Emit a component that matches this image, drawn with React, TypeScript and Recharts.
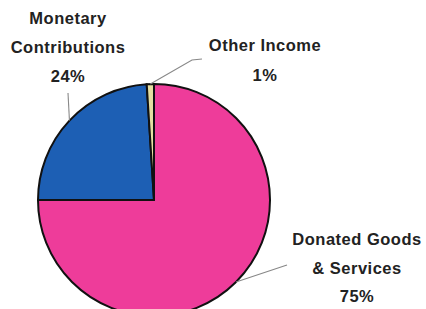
import { PieChart, Pie, Cell } from "recharts";

const categories = ["Donated Goods & Services", "Monetary Contributions", "Other Income"];
const shares = [75, 24, 1];
const labelLines = [["Donated Goods", "& Services", "75%"], ["Monetary", "Contributions", "24%"], ["Other Income", "1%"]];
const colors = ["#ee3c9a", "#1d5fb4", "#e6dfa2"];

const data = categories.map((name, i) => ({ name, value: shares[i] }));

// label text anchor and leader elbow, relative to pie centre
const layout = [
  { tx: 203, ty: 39, gap: 28.5, elbow: [[133, 65]] },
  { tx: -86, ty: -182, gap: 29, elbow: [[-86, -107]] },
  { tx: 111, ty: -155, gap: 30, elbow: [[38, -140], [48, -141]] }
];

const RAD = Math.PI / 180;

function renderLabel(props: any) {
  const { cx, cy, midAngle, outerRadius, index } = props;
  const l = layout[index];
  const sx = cx + outerRadius * Math.cos(-midAngle * RAD);
  const sy = cy + outerRadius * Math.sin(-midAngle * RAD);
  const pts = [[sx, sy], ...l.elbow.map(([x, y]) => [cx + x, cy + y])];
  return (
    <g>
      <polyline
        points={pts.map((p) => p.join(",")).join(" ")}
        fill="none"
        stroke="#888"
        strokeWidth={1.1}
      />
      {labelLines[index].map((t, j) => (
        <text
          key={j}
          x={cx + l.tx}
          y={cy + l.ty + j * l.gap}
          textAnchor="middle"
          dominantBaseline="central"
          fill="#222"
          fontFamily="'Liberation Sans', Arial, sans-serif"
          fontWeight="bold"
          fontSize={16.5}
          letterSpacing={0.5}
        >
          {t}
        </text>
      ))}
    </g>
  );
}

export default function App() {
  return (
    <div style={{ position: "absolute", left: 0, top: 0, width: 426, height: 309, background: "#fff" }}>
      <PieChart width={426} height={309}>
        <Pie
          data={data}
          dataKey="value"
          cx={149}
          cy={195}
          outerRadius={116}
          startAngle={90}
          endAngle={-270}
          stroke="#111"
          strokeWidth={2}
          label={renderLabel}
          labelLine={false}
          isAnimationActive={false}
        >
          {data.map((d, i) => (
            <Cell key={d.name} fill={colors[i]} />
          ))}
        </Pie>
      </PieChart>
    </div>
  );
}
